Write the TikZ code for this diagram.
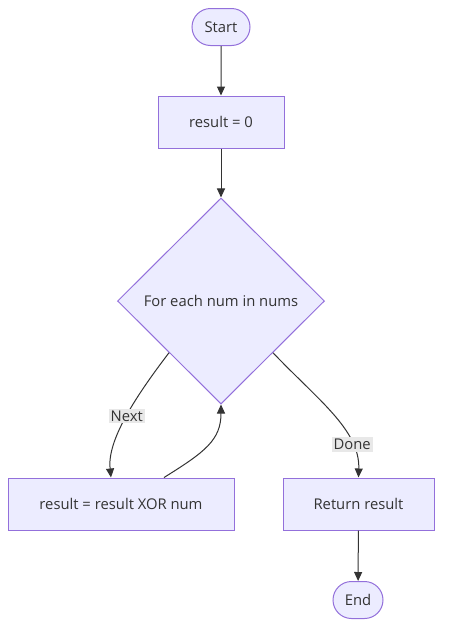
\documentclass[tikz,border=0pt]{standalone}
\usepackage{fontspec}
\setmainfont{Open Sans}
\usetikzlibrary{arrows.meta}
\usetikzlibrary{shapes.geometric}
\usetikzlibrary{shapes.misc}
\definecolor{boxfill}{HTML}{ECECFF}
\definecolor{boxline}{HTML}{9370DB}
\definecolor{ink}{HTML}{333333}
\definecolor{labelbg}{HTML}{E8E8E8}
\tikzset{
	box/.style={draw=boxline, fill=boxfill, line width=1pt, text=ink, inner sep=0pt},
	stepnode/.style={box, rectangle, minimum height=52pt},
	termnode/.style={box, rounded rectangle, minimum height=37pt},
	choice/.style={box, diamond, minimum width=207pt, minimum height=206pt},
	flow/.style={draw=ink, line width=1pt, -{Triangle[length=9pt, width=8pt]}},
	edgelabel/.style={fill=labelbg, text=ink, inner sep=2pt}
}
\begin{document}
\begin{tikzpicture}[x=1pt, y=-1pt, font=\fontsize{14.8}{17}\selectfont]
	\useasboundingbox (0,0) rectangle (450,638);
	% nodes
	\node[termnode, minimum width=58pt] (start) at (221,27) {Start};
	\node[stepnode, minimum width=126pt] (init) at (221,122) {result = 0};
	\node[choice] (loop) at (221,301) {For each num in nums};
	\node[stepnode, minimum width=226pt] (xor) at (121,504) {result = result XOR num};
	\node[stepnode, minimum width=151pt] (ret) at (358.5,504) {Return result};
	\node[termnode, minimum width=50pt] (end) at (358,600) {End};
	% connectors
	\draw[flow] (start) -- (init);
	\draw[flow] (init) -- (loop);
	\draw[flow] (loop.south west) .. controls (136,396) and (107,440) .. ([xshift=-10pt]xor.north)
		node[edgelabel, pos=0.49] {Next};
	\draw[flow] ([xshift=43pt]xor.north) .. controls (205,452) and (221,440) .. (loop.south);
	\draw[flow] (loop.south east) .. controls (318,400) and (360,430) .. (ret.north)
		node[edgelabel, pos=0.75] {Done};
	\draw[flow] (ret) -- (end);
\end{tikzpicture}
\end{document}
